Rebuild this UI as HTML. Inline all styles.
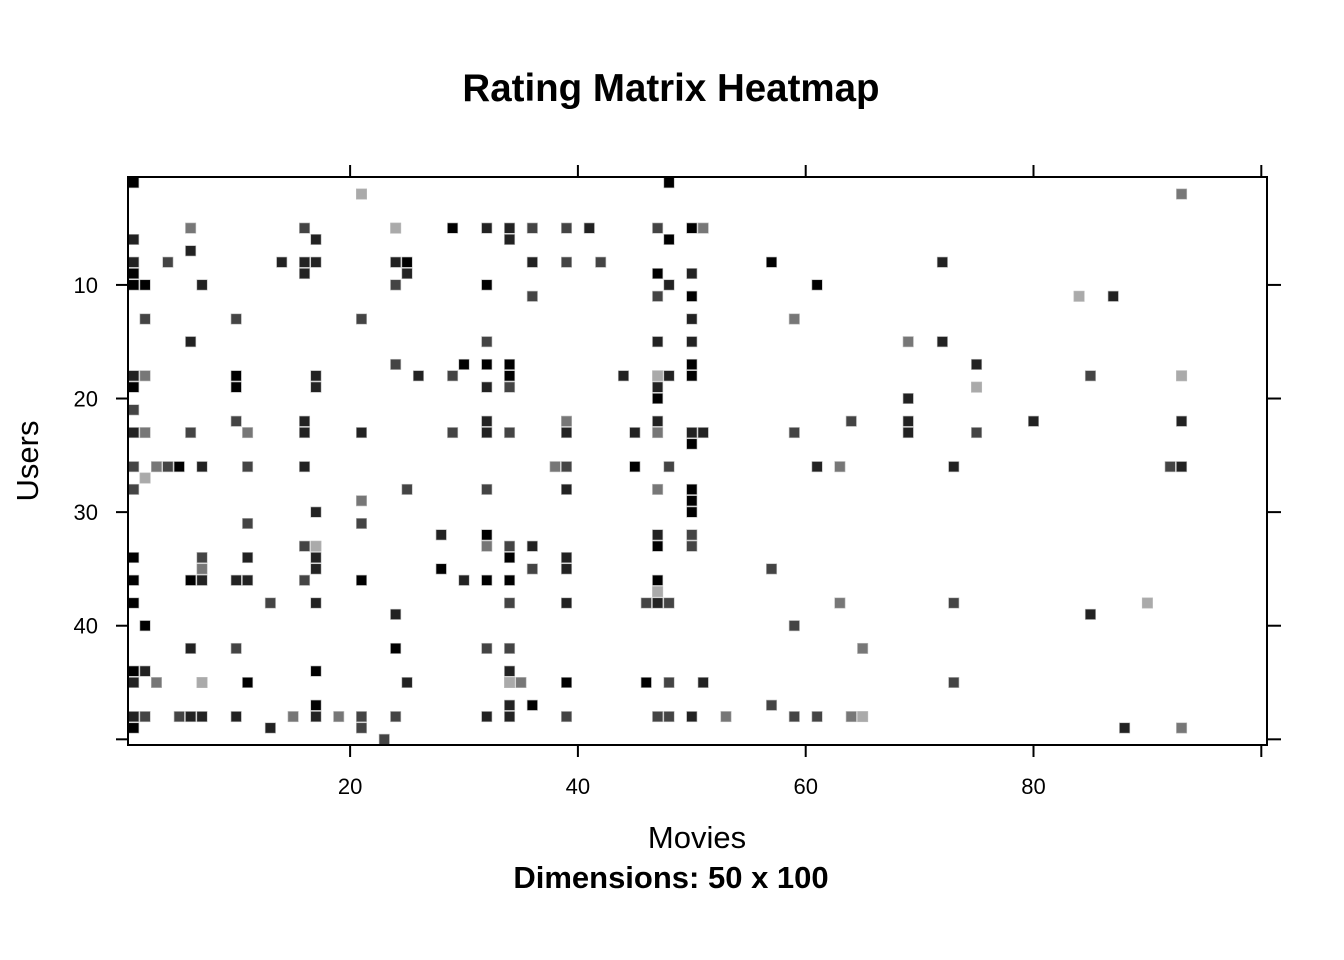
<!DOCTYPE html>
<html><head><meta charset="utf-8"><style>
body{margin:0;background:#fff;}
svg{display:block;font-family:"Liberation Sans",sans-serif;}
</style></head><body>
<svg id="chart" width="1344" height="960" xmlns="http://www.w3.org/2000/svg">
<text x="671" y="101" text-anchor="middle" font-size="38.5" font-weight="bold">Rating Matrix Heatmap</text>
<text x="697" y="848" text-anchor="middle" font-size="31">Movies</text>
<text x="671" y="888" text-anchor="middle" font-size="31" font-weight="bold">Dimensions: 50 x 100</text>
<text x="38" y="461" text-anchor="middle" font-size="31" transform="rotate(-90 38 461)">Users</text>
<g id="cells"></g>
<g id="axes"></g>
</svg>
<script>
const xTicks=[20,40,60,80,100];
const xTickLabels=["20","40","60","80",""];
const yTicks=[10,20,30,40,50];
const yTickLabels=["10","20","30","40",""];
const cellRows=[1,1,2,2,
5,5,5,5,5,5,5,5,5,5,5,5,
6,6,6,6,7,
8,8,8,8,8,8,8,8,8,8,8,8,
9,9,9,9,9,
10,10,10,10,10,10,10,
11,11,11,11,11,
13,13,13,13,13,
15,15,15,15,15,15,
17,17,17,17,17,17,
18,18,18,18,18,18,18,18,18,18,18,18,18,
19,19,19,19,19,19,19,
20,20,21,
22,22,22,22,22,22,22,22,22,
23,23,23,23,23,23,23,23,23,23,23,23,23,23,23,23,23,
24,
26,26,26,26,26,26,26,26,26,26,26,26,26,26,26,26,
27,
28,28,28,28,28,28,
29,29,30,30,31,31,
32,32,32,32,
33,33,33,33,33,33,33,
34,34,34,34,34,34,
35,35,35,35,35,35,
36,36,36,36,36,36,36,36,36,36,36,
37,
38,38,38,38,38,38,38,38,38,38,38,
39,39,40,40,
42,42,42,42,42,42,
44,44,44,44,
45,45,45,45,45,45,45,45,45,45,45,45,
47,47,47,47,
48,48,48,48,48,48,48,48,48,48,48,48,48,48,48,48,48,48,48,48,48,48,
49,49,49,49,49,
50];
const cellCols=[1,48,21,93,
6,16,24,29,32,34,36,39,41,47,50,51,
1,17,34,48,6,
1,4,14,16,17,24,25,36,39,42,57,72,
1,16,25,47,50,
1,2,7,24,32,48,61,
36,47,50,84,87,
2,10,21,50,59,
6,32,47,50,69,72,
24,30,32,34,50,75,
1,2,10,17,26,29,34,44,47,48,50,85,93,
1,10,17,32,34,47,75,
47,69,1,
10,16,32,39,47,64,69,80,93,
1,2,6,11,16,21,29,32,34,39,45,47,50,51,59,69,75,
50,
1,3,4,5,7,11,16,38,39,45,48,61,63,73,92,93,
2,
1,25,32,39,47,50,
21,50,17,50,11,21,
28,32,47,50,
16,17,32,34,36,47,50,
1,7,11,17,34,39,
7,17,28,36,39,57,
1,6,7,10,11,16,21,30,32,34,47,
47,
1,13,17,34,39,46,47,48,63,73,90,
24,85,2,59,
6,10,24,32,34,65,
1,2,17,34,
1,3,7,11,25,34,35,39,46,48,51,73,
17,34,36,57,
1,2,5,6,7,10,15,17,19,21,24,32,34,39,47,48,50,53,59,61,64,65,
1,13,21,88,93,
23];
const cellRatings=[5,5,1,2,
2,3,1,5,4,4,3,3,4,3,5,2,
4,4,4,5,4,
4,3,4,4,4,4,5,4,3,3,5,4,
5,4,4,5,4,
5,5,4,3,5,4,5,
3,3,5,1,4,
3,3,3,4,2,
4,3,4,4,2,4,
3,5,5,5,5,4,
4,2,5,4,4,3,5,4,1,4,5,3,1,
5,5,4,4,3,4,1,
5,4,3,
3,4,4,2,4,3,4,4,4,
4,2,3,2,4,4,3,4,3,4,4,2,4,4,3,4,3,
5,
3,2,3,5,4,3,4,2,3,5,3,4,2,4,3,4,
1,
3,3,3,4,2,5,
2,5,4,5,3,3,
4,5,4,3,
3,1,2,3,4,5,3,
5,3,4,4,5,4,
2,4,5,3,4,3,
5,5,4,4,4,3,5,4,5,5,5,
1,
5,3,4,3,4,3,4,3,2,3,1,
4,4,5,3,
4,3,5,3,3,2,
5,4,5,4,
4,2,1,5,4,1,2,5,5,3,4,3,
5,4,5,3,
4,3,3,4,4,4,2,4,2,3,3,4,4,3,3,3,4,2,3,3,2,1,
5,4,3,4,2,
3];
const shades={5:"#000000",4:"#222222",3:"#444444",2:"#777777",1:"#aaaaaa"};
const NS="http://www.w3.org/2000/svg";
const L=128,R=1267,T=177,B=745,nCols=100,nRows=50;
const cw=(R-L)/nCols, ch=(B-T)/nRows;
const xs=c=>L+(c-0.5)*cw;
const ys=r=>T+(r-0.5)*ch;
const cg=document.getElementById('cells');
for(let i=0;i<cellRows.length;i++){
  const el=document.createElementNS(NS,'rect');
  el.setAttribute('x',(xs(cellCols[i])-cw/2+0.5).toFixed(2));
  el.setAttribute('y',(ys(cellRows[i])-ch/2+0.5).toFixed(2));
  el.setAttribute('width',(cw-1).toFixed(2));
  el.setAttribute('height',(ch-1).toFixed(2));
  el.setAttribute('fill',shades[cellRatings[i]]);
  el.setAttribute('stroke','#bbbbbb');
  el.setAttribute('stroke-width','0.6');
  
  
  cg.appendChild(el);
}
const ag=document.getElementById('axes');
function add(tag,attrs,text){const e=document.createElementNS(NS,tag);for(const k in attrs)e.setAttribute(k,attrs[k]);if(text!==undefined)e.textContent=text;ag.appendChild(e);return e;}
const frame=add('rect',{x:L,y:T,width:R-L,height:B-T,fill:'none',stroke:'#000','stroke-width':2});


xTicks.forEach((v,i)=>{
  const x=xs(v);
  const t1=add('line',{x1:x,x2:x,y1:T,y2:T-12,stroke:'#000','stroke-width':2});
  
  
  const t2=add('line',{x1:x,x2:x,y1:B,y2:B+12,stroke:'#000','stroke-width':2});
  
  
  if(xTickLabels[i]){
    const lb=add('text',{x:x,y:B+49,'text-anchor':'middle','font-size':22},xTickLabels[i]);
    
    
  }
});
yTicks.forEach((v,i)=>{
  const y=ys(v);
  const t1=add('line',{x1:L,x2:L-12,y1:y,y2:y,stroke:'#000','stroke-width':2});
  
  
  const t2=add('line',{x1:R,x2:R+14,y1:y,y2:y,stroke:'#000','stroke-width':2});
  
  
  if(yTickLabels[i]){
    const lb=add('text',{x:L-30,y:y+8,'text-anchor':'end','font-size':22},yTickLabels[i]);
    
    
  }
});
</script>
</body></html>
